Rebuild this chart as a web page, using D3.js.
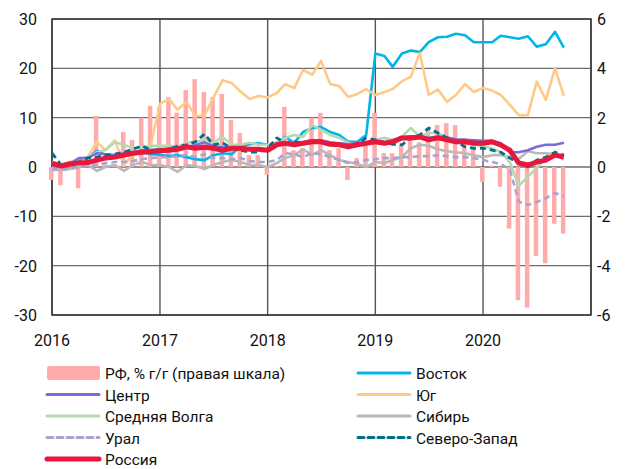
<!DOCTYPE html>
<html>
<head>
<meta charset="utf-8">
<script src="https://cdn.jsdelivr.net/npm/d3@7"></script>
<style>
  body { margin: 0; background: #fff; }
  svg text { font-family: Roboto, "Open Sans", sans-serif; fill: #111; }
</style>
</head>
<body>
<svg width="630" height="469"></svg>
<script>
// monthly data, Jan 2016 .. Oct 2020
const months = d3.timeMonth.range(new Date(2016, 0, 1), new Date(2020, 9, 2))

// РФ, % г/г (right axis)
const rf = [
  -0.53, -0.74, 0.05, -0.86, 0.05, 2.07, 0.1, 0.1, 1.42, 1.1, 2.0, 2.48,
  2.44, 2.84, 2.2, 3.12, 3.56, 3.04, 2.84, 2.96, 1.9, 1.38, 0.48, 0.48,
  -0.32, 0.05, 2.44, 0.68, 0.76, 2.0, 2.2, 0.68, 0.76, -0.53, 0.36, 1.0,
  2.2, 0.56, 0.56, 0.9, 1.22, 1.0, 1.58, 1.7, 1.78, 1.7, 1.18, 0.8,
  -0.6, 0.06, -0.8, -2.5, -5.4, -5.7, -3.6, -3.9, -2.3, -2.7
]
const vostok = [
  0.5, 0.3, 0.8, 1.5, 2.0, 3.3, 2.4, 2.2, 2.6, 3.0, 3.0, 2.6,
  2.5, 2.2, 2.4, 2.0, 1.6, 1.4, 2.4, 2.8, 2.6, 4.2, 4.6, 4.8,
  4.5, 4.6, 6.1, 4.9, 7.1, 7.9, 8.1, 7.1, 6.5, 5.1, 5.1, 6.5,
  23.0, 22.5, 20.3, 23.0, 23.6, 23.3, 25.3, 26.3, 26.4, 27.0, 26.7, 25.3,
  25.3, 25.3, 26.6, 26.3, 26.0, 26.5, 24.4, 24.9, 27.4, 24.2
]
const tsentr = [
  0.3, 0.2, 0.6, 1.8, 1.8, 2.8, 2.6, 2.4, 2.8, 3.0, 3.4, 3.4,
  3.6, 3.8, 4.0, 4.1, 4.4, 5.0, 4.2, 4.0, 4.0, 3.8, 3.8, 3.6,
  3.6, 4.8, 5.0, 4.8, 5.0, 5.4, 5.4, 5.0, 4.8, 4.6, 4.8, 5.0,
  5.2, 5.0, 5.4, 6.0, 6.2, 6.2, 5.9, 6.2, 6.0, 5.6, 5.5, 5.4,
  5.3, 5.3, 4.8, 3.0, 3.0, 3.4, 4.1, 4.5, 4.5, 4.9
]
const yug = [
  1.0, 0.5, 1.0, 1.5, 2.0, 5.1, 3.4, 5.4, 0.5, 2.5, 3.0, 4.5,
  12.8, 13.8, 11.6, 13.2, 10.3, 10.5, 14.0, 17.6, 17.0, 15.3, 13.8, 14.4,
  14.1, 15.0, 16.8, 16.0, 19.7, 18.7, 21.5, 16.8, 16.4, 14.2, 14.8, 15.8,
  14.6, 15.2, 15.8, 17.4, 18.3, 23.1, 14.6, 15.7, 13.2, 14.6, 16.8, 15.2,
  16.0, 15.5, 14.6, 12.6, 10.5, 10.5, 17.3, 13.6, 20.0, 14.4
]
const volga = [
  0.5, 0.3, 0.8, 1.5, 2.0, 3.0, 3.5, 5.0, 4.5, 3.8, 4.0, 4.3,
  4.3, 4.3, 4.1, 4.9, 5.1, 5.5, 4.9, 6.1, 4.5, 4.5, 4.9, 4.5,
  4.5, 5.0, 5.9, 6.5, 6.1, 8.5, 7.5, 6.5, 5.9, 4.9, 4.5, 4.9,
  5.5, 5.9, 5.5, 6.1, 7.9, 6.1, 6.9, 6.9, 6.1, 5.5, 4.9, 4.5,
  4.2, 3.8, 3.0, 1.0, -3.8, -2.0, -0.2, 1.8, 2.8, 1.4
]
const sibir = [
  -0.6, -0.6, -0.4, 0.0, 0.4, -0.8, 0.0, 0.4, -0.8, 0.4, 1.0, 0.4,
  0.4, 0.0, -1.0, 0.4, 0.2, -0.4, 0.4, 1.0, 1.4, 1.0, 0.4, 0.4,
  0.0, 0.8, 1.8, 2.4, 3.6, 2.4, 3.4, 2.4, 1.4, 1.0, 0.6, 0.0,
  1.0, 0.8, 1.4, 2.0, 3.8, 4.5, 4.3, 3.6, 3.2, 3.0, 2.8, 2.4,
  2.0, 2.4, 2.4, 2.0, 1.6, 3.2, 2.8, 2.8, 2.6, 2.4
]
const ural = [
  -0.4, -0.5, -0.4, 0.0, 0.2, 0.4, 0.8, 1.0, 1.0, 1.2, 1.6, 1.8,
  2.0, 2.0, 2.2, 2.4, 2.0, 2.6, 1.8, 1.8, 1.6, 1.8, 1.2, 1.0,
  1.0, 1.4, 2.8, 2.6, 2.0, 2.8, 2.6, 2.0, 1.4, 0.8, 1.0, 1.4,
  1.6, 1.8, 1.8, 2.0, 2.0, 2.2, 2.2, 2.4, 2.2, 2.0, 2.0, 1.8,
  1.4, 1.0, 0.6, -0.5, -7.0, -7.7, -7.1, -6.3, -5.3, -5.9
]
const sevzap = [
  2.8, 0.4, 0.8, 1.0, 1.8, 2.0, 2.4, 2.6, 3.0, 3.6, 4.3, 3.4,
  3.5, 3.6, 4.2, 4.5, 5.1, 6.7, 4.5, 4.9, 3.8, 3.4, 3.0, 3.0,
  3.8, 5.9, 4.9, 5.1, 4.9, 5.5, 5.0, 4.6, 4.4, 4.2, 4.6, 5.9,
  5.5, 5.0, 4.6, 4.5, 5.9, 6.5, 7.9, 6.9, 5.9, 5.2, 4.1, 3.8,
  3.8, 3.4, 3.0, 1.8, 0.8, 0.0, 1.4, 2.0, 3.0, 2.4
]
const russia = [
  0.8, 0.2, 0.6, 0.8, 0.9, 1.4, 1.8, 2.0, 2.4, 2.8, 3.0, 3.1,
  3.3, 3.4, 3.6, 4.1, 3.8, 4.0, 3.8, 3.4, 3.8, 3.8, 3.6, 3.6,
  3.4, 4.5, 4.8, 4.5, 4.8, 5.1, 5.1, 4.6, 4.5, 4.1, 4.5, 4.8,
  5.1, 4.8, 5.1, 5.9, 5.9, 6.1, 5.5, 5.9, 5.5, 5.1, 5.1, 4.8,
  4.8, 5.1, 4.5, 3.4, 0.8, 0.4, 1.0, 1.4, 2.4, 2.0
]

const leftTicks = [-30, -20, -10, 0, 10, 20, 30]
const rightTicks = [-6, -4, -2, 0, 2, 4, 6]
const yearTicks = [2016, 2017, 2018, 2019, 2020]

const series = [
  { name: "Восток", values: vostok, color: "#00b5e8", width: 2.6, dash: null },
  { name: "Юг", values: yug, color: "#ffca88", width: 2.6, dash: null },
  { name: "Сибирь", values: sibir, color: "#b9b9b9", width: 2.6, dash: null },
  { name: "Средняя Волга", values: volga, color: "#b5d9b0", width: 2.6, dash: null },
  { name: "Центр", values: tsentr, color: "#7d6cd8", width: 2.6, dash: null },
  { name: "Урал", values: ural, color: "#aaa3d2", width: 2.6, dash: "6,4" },
  { name: "Северо-Запад", values: sevzap, color: "#006f8c", width: 2.8, dash: "6,4" },
  { name: "Россия", values: russia, color: "#e8173c", width: 5, dash: null }
]

const svg = d3.select("svg")
const plotL = 52, plotR = 591, plotT = 19, plotB = 315

const x = d3.scaleTime()
  .domain([new Date(2016, 0, 1), new Date(2021, 0, 1)])
  .range([plotL, plotR])
const y = d3.scaleLinear().domain([-30, 30]).range([plotB, plotT])
const y2 = d3.scaleLinear().domain([-6, 6]).range([plotB, plotT])

// grid
svg.append("g")
  .selectAll("line")
  .data(leftTicks)
  .enter()
  .append("line")
  .attr("x1", plotL).attr("x2", plotR)
  .attr("y1", d => y(d)).attr("y2", d => y(d))
  .style("stroke", "#6e6e6e")
  .style("stroke-width", 1.4)

svg.append("g")
  .selectAll("line")
  .data(yearTicks.concat([2021]))
  .enter()
  .append("line")
  .attr("x1", d => x(new Date(d, 0, 1))).attr("x2", d => x(new Date(d, 0, 1)))
  .attr("y1", plotT).attr("y2", plotB)
  .style("stroke", "#555")
  .style("stroke-width", 1.4)

svg.append("rect")
  .attr("x", plotL).attr("y", plotT)
  .attr("width", plotR - plotL).attr("height", plotB - plotT)
  .style("fill", "none")
  .style("stroke", "#333")
  .style("stroke-width", 1.4)

// bars
svg.append("g")
  .selectAll("rect")
  .data(rf)
  .enter()
  .append("rect")
  .attr("x", (d, i) => x(months[i]) - 3)
  .attr("width", 4.5)
  .attr("y", d => Math.min(y2(d), y2(0)))
  .attr("height", d => Math.abs(y2(d) - y2(0)))
  .style("fill", "#ffabab")

// lines
const line = d3.line()
  .x((d, i) => x(months[i]))
  .y(d => y(d))

svg.append("g")
  .selectAll("path")
  .data(series)
  .enter()
  .append("path")
  .attr("d", d => line(d.values))
  .style("fill", "none")
  .style("stroke", d => d.color)
  .style("stroke-width", d => d.width)
  .style("stroke-dasharray", d => d.dash)
  .style("stroke-linejoin", "round")

// axes labels
svg.append("g")
  .selectAll("text")
  .data(leftTicks)
  .enter()
  .append("text")
  .attr("x", 37).attr("y", d => y(d) + 6)
  .attr("text-anchor", "end")
  .style("font-size", "16px")
  .text(d => String(d))

svg.append("g")
  .selectAll("text")
  .data(rightTicks)
  .enter()
  .append("text")
  .attr("x", 597).attr("y", d => y2(d) + 6)
  .style("font-size", "16px")
  .text(d => String(d))

svg.append("g")
  .selectAll("text")
  .data(yearTicks)
  .enter()
  .append("text")
  .attr("x", d => x(new Date(d, 0, 1))).attr("y", 346)
  .attr("text-anchor", "middle")
  .style("font-size", "16px")
  .text(d => String(d))

// legend
const legendItems = [
  { name: "РФ, % г/г (правая шкала)", color: "#ffabab", bar: true, col: 0, row: 0 },
  { name: "Восток", color: "#00b5e8", col: 1, row: 0 },
  { name: "Центр", color: "#7d6cd8", col: 0, row: 1 },
  { name: "Юг", color: "#ffca88", col: 1, row: 1 },
  { name: "Средняя Волга", color: "#b5d9b0", col: 0, row: 2 },
  { name: "Сибирь", color: "#b9b9b9", col: 1, row: 2 },
  { name: "Урал", color: "#aaa3d2", dash: "6,4", col: 0, row: 3 },
  { name: "Северо-Запад", color: "#006f8c", dash: "6,4", col: 1, row: 3 },
  { name: "Россия", color: "#e8173c", width: 5, col: 0, row: 4 }
]
const lg = svg.append("g")
const colX = [47, 358]
legendItems.forEach(it => {
  const ly = 373 + it.row * 21.5
  const x0 = colX[it.col]
  if (it.bar) {
    lg.append("rect")
      .attr("x", x0).attr("y", ly - 7)
      .attr("width", 53).attr("height", 14)
      .attr("rx", 2)
      .style("fill", it.color)
  } else {
    lg.append("line")
      .attr("x1", x0).attr("x2", x0 + 52)
      .attr("y1", ly).attr("y2", ly)
      .style("stroke", it.color)
      .style("stroke-width", it.width || 3)
      .style("stroke-dasharray", it.dash || null)
      .style("stroke-linecap", "round")
  }
  lg.append("text")
    .attr("x", x0 + 58).attr("y", ly + 6)
    .style("font-size", "15.5px")
    .text(it.name)
})
</script>
</body>
</html>
